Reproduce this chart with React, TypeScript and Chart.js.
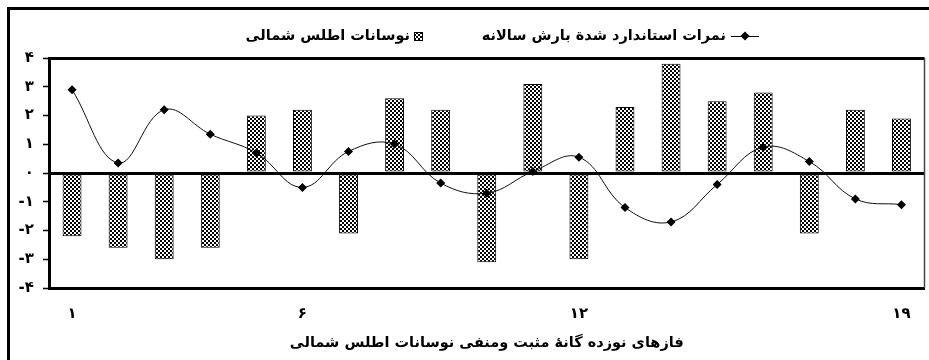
import React, { useEffect, useRef } from 'react';
import { Chart, registerables } from 'chart.js';

Chart.register(...registerables);

const categories = [1, 2, 3, 4, 5, 6, 7, 8, 9, 10, 11, 12, 13, 14, 15, 16, 17, 18, 19];
const barValues = [-2.2, -2.6, -3.0, -2.6, 2.0, 2.2, -2.1, 2.6, 2.2, -3.1, 3.1, -3.0, 2.3, 3.8, 2.5, 2.8, -2.1, 2.2, 1.9];
const lineValues = [2.9, 0.35, 2.2, 1.35, 0.7, -0.5, 0.75, 1.0, -0.35, -0.7, 0.05, 0.55, -1.2, -1.7, -0.4, 0.9, 0.4, -0.9, -1.1];
const shownXTicks = [1, 6, 12, 19];
const yMin = -4;
const yMax = 4;

const lineLabel = 'نمرات استاندارد شدة بارش سالانه';
const barLabel = 'نوسانات اطلس شمالی';
const xTitle = 'فازهای نوزده گانهٔ مثبت ومنفی نوسانات اطلس شمالی';

const FAMILY = '"DejaVu Sans", sans-serif';
const toFa = (v: number | string) => String(v).replace(/\d/g, (d) => '۰۱۲۳۴۵۶۷۸۹'[Number(d)]);

function makePattern(): CanvasPattern | string {
  const c = document.createElement('canvas');
  c.width = 4;
  c.height = 4;
  const p = c.getContext('2d');
  if (!p) return '#888';
  p.fillStyle = '#fff';
  p.fillRect(0, 0, 4, 4);
  p.fillStyle = '#000';
  p.fillRect(0, 0, 2, 2);
  p.fillRect(2, 2, 2, 2);
  const out = document.createElement('canvas').getContext('2d');
  return out ? (out.createPattern(c, 'repeat') as CanvasPattern) : '#888';
}

const framePlugin = {
  id: 'frame',
  beforeDraw(chart: any) {
    const { ctx, width, height } = chart;
    ctx.save();
    ctx.fillStyle = '#fff';
    ctx.fillRect(0, 0, width, height);
    ctx.restore();
  },
  afterDraw(chart: any) {
    const { ctx, chartArea } = chart;
    ctx.save();
    ctx.strokeStyle = '#000';
    ctx.lineWidth = 3;
    ctx.strokeRect(8.5, 8.5, 4000, 4000);
    ctx.beginPath();
    ctx.moveTo(chartArea.left, chartArea.top + 0.5);
    ctx.lineTo(chartArea.right, chartArea.top + 0.5);
    ctx.stroke();
    ctx.strokeStyle = '#444';
    ctx.lineWidth = 1.5;
    ctx.beginPath();
    ctx.moveTo(chartArea.right, chartArea.top);
    ctx.lineTo(chartArea.right, chartArea.bottom);
    ctx.stroke();
    ctx.restore();
  },
};

const legendPlugin = {
  id: 'rtlLegend',
  afterDraw(chart: any) {
    const { ctx } = chart;
    const ds = chart.data.datasets;
    const y = 36;
    ctx.save();
    ctx.font = `bold 14.5px ${FAMILY}`;
    ctx.fillStyle = '#000';
    ctx.textBaseline = 'middle';
    ctx.direction = 'rtl';
    ctx.textAlign = 'right';
    ctx.strokeStyle = '#000';
    ctx.lineWidth = 1;
    ctx.beginPath();
    ctx.moveTo(731, y + 0.5);
    ctx.lineTo(759, y + 0.5);
    ctx.stroke();
    ctx.beginPath();
    ctx.moveTo(745, y - 4.5);
    ctx.lineTo(749.5, y);
    ctx.lineTo(745, y + 4.5);
    ctx.lineTo(740.5, y);
    ctx.closePath();
    ctx.fill();
    ctx.fillText(ds[0].label, 726, y);
    ctx.fillStyle = ds[1].backgroundColor;
    ctx.fillRect(414, y - 4, 8, 8);
    ctx.strokeRect(414.5, y - 3.5, 8, 8);
    ctx.fillStyle = '#000';
    ctx.fillText(ds[1].label, 410, y);
    ctx.restore();
  },
};

export default function App() {
  const ref = useRef<HTMLCanvasElement | null>(null);

  useEffect(() => {
    document.body.style.margin = '0';
    const canvas = ref.current;
    if (!canvas) return;
    const pattern = makePattern();
    const tickFont = { family: FAMILY, weight: 'bold' as const, size: 15 };
    const chart = new Chart(canvas, {
      type: 'bar',
      data: {
        labels: categories.map(String),
        datasets: [
          {
            type: 'line' as const,
            label: lineLabel,
            data: lineValues,
            borderColor: '#111',
            backgroundColor: '#000',
            borderWidth: 1,
            tension: 0.4,
            pointStyle: 'rectRot',
            pointRadius: 4.5,
            pointBackgroundColor: '#000',
            pointBorderColor: '#000',
            pointBorderWidth: 0,
            fill: false,
            order: 0,
          },
          {
            type: 'bar' as const,
            label: barLabel,
            data: barValues,
            backgroundColor: pattern as any,
            borderColor: '#000',
            borderWidth: 1,
            borderSkipped: false,
            barPercentage: 0.41,
            categoryPercentage: 1,
            order: 1,
          },
        ] as any,
      },
      options: {
        animation: false,
        responsive: false,
        devicePixelRatio: 1,
        layout: { padding: { left: 0, right: 3, top: 58, bottom: 0 } },
        plugins: { legend: { display: false }, tooltip: { enabled: false } },
        scales: {
          x: {
            grid: { display: false, drawTicks: false },
            border: { display: true, color: '#000', width: 3 },
            ticks: {
              autoSkip: false,
              maxRotation: 0,
              padding: 17,
              color: '#000',
              font: tickFont,
              callback: (_v: any, i: number) =>
                shownXTicks.includes(categories[i]) ? toFa(categories[i]) : '',
            },
            title: {
              display: true,
              text: xTitle,
              color: '#000',
              font: { family: FAMILY, weight: 'bold', size: 14.5 },
              padding: { top: 0, bottom: 8 },
            },
            afterFit: (s: any) => {
              s.height = 72;
            },
          },
          y: {
            min: yMin,
            max: yMax,
            ticks: {
              stepSize: 1,
              padding: 9,
              color: '#000',
              font: tickFont,
              callback: (v: any) => toFa(v),
            },
            grid: {
              color: (c: any) => (c.tick && c.tick.value === 0 ? '#000' : 'rgba(0,0,0,0)'),
              lineWidth: (c: any) => (c.tick && c.tick.value === 0 ? 3 : 1),
              tickColor: '#000',
              tickLength: 6,
              tickWidth: 1.5,
            },
            border: { display: true, color: '#000', width: 3 },
            afterFit: (s: any) => {
              s.width = 49;
            },
          },
        },
      } as any,
      plugins: [framePlugin, legendPlugin],
    });
    return () => chart.destroy();
  }, []);

  return (
    <div style={{ width: 929, height: 360 }}>
      <canvas ref={ref} width={929} height={360} style={{ width: 929, height: 360, display: 'block' }} />
    </div>
  );
}
